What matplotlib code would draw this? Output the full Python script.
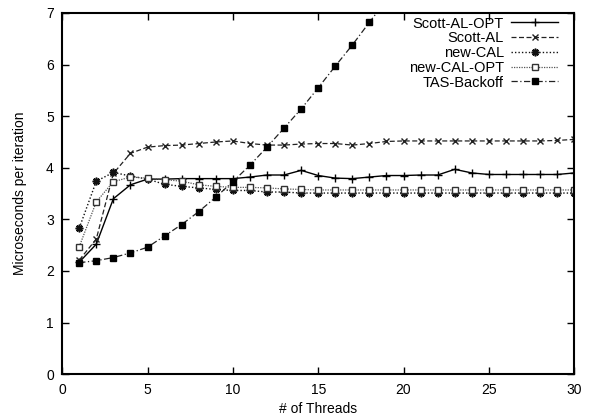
#!/usr/bin/env python3
"""
锁性能对比图: 每次迭代耗时 vs 线程数
"""

import matplotlib
matplotlib.use('Agg')
import matplotlib.pyplot as plt

plt.rcParams['font.family'] = ['Liberation Sans', 'DejaVu Sans']

# 数据
threads = list(range(1, 31))
scott_al_opt = [2.17, 2.52, 3.40, 3.67, 3.78, 3.78, 3.79, 3.79, 3.79, 3.79,
                3.82, 3.86, 3.86, 3.95, 3.85, 3.80, 3.79, 3.82, 3.85, 3.85,
                3.86, 3.86, 3.97, 3.90, 3.87, 3.87, 3.87, 3.87, 3.87, 3.90]
scott_al = [2.21, 2.62, 3.89, 4.28, 4.40, 4.43, 4.44, 4.47, 4.50, 4.52,
            4.47, 4.44, 4.44, 4.46, 4.47, 4.47, 4.44, 4.47, 4.51, 4.52,
            4.52, 4.52, 4.52, 4.52, 4.52, 4.52, 4.52, 4.52, 4.53, 4.55]
new_cal = [2.83, 3.74, 3.91, 3.84, 3.78, 3.68, 3.64, 3.61, 3.58, 3.56,
           3.56, 3.53, 3.53, 3.51, 3.51, 3.51, 3.51, 3.51, 3.51, 3.51,
           3.51, 3.51, 3.51, 3.51, 3.51, 3.51, 3.51, 3.51, 3.51, 3.51]
new_cal_opt = [2.47, 3.34, 3.73, 3.82, 3.80, 3.77, 3.74, 3.67, 3.64, 3.62,
               3.62, 3.61, 3.59, 3.58, 3.57, 3.57, 3.57, 3.57, 3.57, 3.57,
               3.57, 3.57, 3.57, 3.57, 3.57, 3.57, 3.57, 3.57, 3.57, 3.57]
tas_threads = list(range(1, 20))
tas_backoff = [2.16, 2.20, 2.26, 2.35, 2.46, 2.68, 2.90, 3.15, 3.43, 3.73,
               4.05, 4.40, 4.77, 5.14, 5.55, 5.97, 6.38, 6.82, 7.25]

fig = plt.figure(figsize=(5.92, 4.19), dpi=100)
ax = fig.add_axes([0.105, 0.107, 0.865, 0.862])

ax.plot(threads, scott_al_opt, color='black', lw=1.0, ls='-',
        marker='+', ms=5.5, mew=1.0, label='Scott-AL-OPT')
ax.plot(threads, scott_al, color='#222222', lw=0.9, ls=(0, (4, 2)),
        marker='x', ms=4.5, mew=1.0, label='Scott-AL')
ax.plot(threads, new_cal, color='#111111', lw=1.0, ls=(0, (1, 1.5)),
        marker=(8, 2, 0), ms=5.5, mew=1.2, label='new-CAL')
ax.plot(threads, new_cal_opt, color='#555555', lw=0.9, ls=(0, (1, 1)),
        marker='s', ms=5, mfc='white', mec='#333333', mew=1.0,
        label='new-CAL-OPT')
ax.plot(tas_threads, tas_backoff, color='#222222', lw=0.9,
        ls=(0, (5, 2, 1, 2)), marker='s', ms=5, mfc='black', mec='black',
        label='TAS-Backoff')

ax.set_xlim(0, 30)
ax.set_ylim(0, 7)
ax.set_xticks(range(0, 31, 5))
ax.set_yticks(range(0, 8))
ax.tick_params(direction='in', top=True, right=True, length=5, width=1.0,
               labelsize=10, pad=6)
for s in ax.spines.values():
    s.set_linewidth(1.5)

ax.set_xlabel('# of Threads', fontsize=10)
ax.set_ylabel('Microseconds per iteration', fontsize=10, labelpad=14)

leg = ax.legend(loc='upper right', bbox_to_anchor=(0.968, 0.99),
                frameon=False, markerfirst=False, borderpad=0,
                fontsize=10.5, handlelength=3.2, handletextpad=0.5,
                labelspacing=0.05, borderaxespad=0)
# 文本右对齐 (gnuplot 风格)
for col in leg._legend_box._children[-1]._children:
    col.align = 'right'

plt.savefig('out.png', dpi=100)
print("已生成: out.png")
